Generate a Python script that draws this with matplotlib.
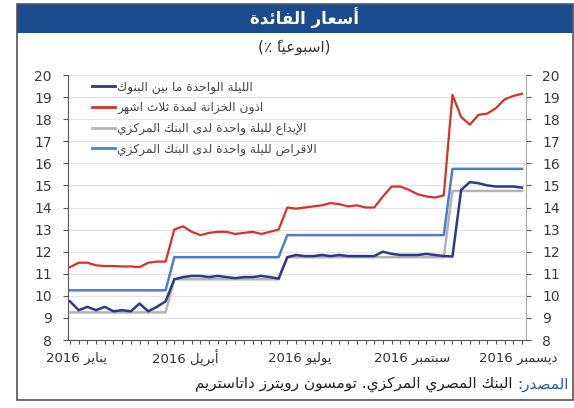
import matplotlib
matplotlib.use("Agg")
import matplotlib.pyplot as plt
from matplotlib.patches import Rectangle
from matplotlib.lines import Line2D

# Weekly observations, 2016
interbank = [9.75, 9.35, 9.5, 9.35, 9.5, 9.3, 9.35, 9.3, 9.65, 9.3, 9.5, 9.75,
             10.75, 10.85, 10.9, 10.9, 10.85, 10.9, 10.85, 10.8, 10.85, 10.85, 10.9, 10.85, 10.78,
             11.75, 11.85, 11.8, 11.8, 11.85, 11.8, 11.85, 11.8, 11.8, 11.8, 11.8, 12.0, 11.9,
             11.85, 11.85, 11.85, 11.9, 11.85, 11.8, 11.78,
             14.8, 15.15, 15.1, 15.0, 14.95, 14.95, 14.95, 14.9]
tbill_3m = [11.3, 11.5, 11.5, 11.38, 11.35, 11.35, 11.33, 11.33, 11.3, 11.5, 11.55, 11.55,
            13.0, 13.15, 12.9, 12.75, 12.85, 12.9, 12.9, 12.8, 12.85, 12.9, 12.8, 12.9, 13.0,
            14.0, 13.95, 14.0, 14.05, 14.1, 14.2, 14.15, 14.05, 14.1, 14.0, 14.0, 14.5, 14.95,
            14.95, 14.8, 14.6, 14.5, 14.45, 14.55,
            19.1, 18.1, 17.75, 18.2, 18.25, 18.5, 18.9, 19.05, 19.15]
deposit = [9.25] * 12 + [10.75] * 13 + [11.75] * 19 + [14.75] * 9
lending = [10.25] * 12 + [11.75] * 13 + [12.75] * 19 + [15.75] * 9

labels = ["الليلة الواحدة ما بين البنوك",
          "اذون الخزانة لمدة ثلاث اشهر",
          "الإيداع لليلة واحدة لدى البنك المركزي",
          "الاقراض لليلة واحدة لدى البنك المركزي"]
months = ["يناير", "أبريل", "يوليو", "سبتمبر", "ديسمبر"]
month_pos = [0.7, 13.3, 26.4, 39.3, 51.6]

# --- minimal arabic shaping (presentation forms + visual order) ---
LETTERS = "ءآأؤإئابةتثجحخدذرزسشصضطظعغفقكلمنهوىي"
COUNTS = [1, 2, 2, 2, 2, 4, 2, 4, 2, 4, 4, 4, 4, 4, 2, 2, 2, 2, 4, 4,
          4, 4, 4, 4, 4, 4, 4, 4, 4, 4, 4, 4, 4, 2, 2, 4]
FORMS = {}
code = 0xFE80
for ch, n in zip(LETTERS, COUNTS):
    FORMS[ch] = (code, n)
    code += n
LAM_ALEF = {"آ": 0xFEF5, "أ": 0xFEF7, "إ": 0xFEF9, "ا": 0xFEFB}


def is_mark(c):
    return "\u064B" <= c <= "\u0652"


def shape(text):
    units = []
    i = 0
    while i < len(text):
        c = text[i]
        if c == "ل" and i + 1 < len(text) and text[i + 1] in LAM_ALEF:
            units.append("ل" + text[i + 1])
            i += 2
        else:
            units.append(c)
            i += 1

    def is_letter(u):
        return u in FORMS or len(u) == 2

    def joins_next(u):
        return u in FORMS and FORMS[u][1] == 4

    clusters = []
    for k, u in enumerate(units):
        if is_mark(u) and clusters:
            # mark goes before its base so it lands on it when drawn left to right
            clusters[-1] = u + clusters[-1]
            continue
        if not is_letter(u):
            clusters.append(u)
            continue
        j = k - 1
        while j >= 0 and is_mark(units[j]):
            j -= 1
        prev = j >= 0 and joins_next(units[j])
        j = k + 1
        while j < len(units) and is_mark(units[j]):
            j += 1
        nxt = j < len(units) and is_letter(units[j]) and joins_next(u)
        if len(u) == 2:
            g = chr(LAM_ALEF[u[1]] + (1 if prev else 0))
        else:
            base, n = FORMS[u]
            idx = 3 if (prev and nxt) else 2 if nxt else 1 if prev else 0
            g = chr(base + min(idx, n - 1))
        clusters.append(g)
    return "".join(reversed(clusters))


plt.rcParams["font.family"] = ["DejaVu Sans"]

fig = plt.figure(figsize=(5.74, 4.08), dpi=100)
W, H = 574, 408

# outer frame and header bar
fig.patches.append(Rectangle((17 / W, 1 - 400 / H), 556 / W, 396 / H, transform=fig.transFigure,
                             facecolor="none", edgecolor="#555555", lw=1.2, zorder=10))
fig.patches.append(Rectangle((17 / W, 1 - 33 / H), 556 / W, 29 / H, transform=fig.transFigure,
                             facecolor="#1a4b8c", edgecolor="none", zorder=1))
fig.text(305 / W, 1 - 18 / H, shape("أسعار الفائدة"), color="white", fontsize=12,
         fontweight="bold", ha="center", va="center")
fig.text(294 / W, 1 - 47 / H, "(٪ " + shape("اسبوعياً") + ")", color="#333333", fontsize=11,
         ha="center", va="center")

ax = fig.add_axes([68 / W, 1 - 340 / H, 458 / W, 265 / H])
ax.set_facecolor("none")
x = list(range(len(interbank)))

ax.plot(x, deposit, color="#b4b4b4", lw=1.8, zorder=3)
ax.plot(x, lending, color="#4d7fc6", lw=1.8, zorder=3)
ax.plot(x, tbill_3m, color="#d8312a", lw=1.6, zorder=4)
ax.plot(x, interbank, color="#2b398c", lw=1.8, zorder=5)

ax.set_xlim(-0.23, 52.46)
ax.set_ylim(8, 20)
ax.set_yticks(range(8, 21))
ax.set_xticks(x)
ax.set_xticklabels([])
ax.grid(axis="y", color="#e3e3e3", lw=0.8)
ax.set_axisbelow(True)

ax.tick_params(axis="y", direction="out", length=3.6, width=0.8, color="#555555",
               labelsize=10, labelcolor="#3a3a3a", pad=8, right=True, labelright=True)
ax.tick_params(axis="x", direction="out", length=3, width=0.8, color="#555555")
for t in ax.yaxis.get_major_ticks():
    t.tick2line.set_color("#aaaaaa")

ax.spines["top"].set_visible(False)
ax.spines["left"].set_color("#555555")
ax.spines["bottom"].set_color("#555555")
ax.spines["right"].set_color("#aaaaaa")

for m, p in zip(months, month_pos):
    ax.text(p, -0.068, "2016 " + shape(m), transform=ax.get_xaxis_transform(),
            ha="center", va="center", fontsize=9.5, color="#333333")

handles = [Line2D([], [], color=c, lw=2) for c in ["#2b398c", "#d8312a", "#b4b4b4", "#4d7fc6"]]
ax.legend(handles, [shape(s) for s in labels], loc="upper left", bbox_to_anchor=(0.052, 0.979),
          frameon=False, fontsize=8.8, handlelength=1.9, handletextpad=0.2, labelspacing=0.62,
          borderpad=0, borderaxespad=0, labelcolor="#444444")

# source line: blue label then the rest to its left
src = fig.text(569 / W, 1 - 384 / H, shape("المصدر:"), color="#1f5fa8", fontsize=11,
               ha="right", va="center")
fig.canvas.draw()
bb = src.get_window_extent()
fig.text(bb.x0 / W, 1 - 384 / H, shape(" البنك المصري المركزي. تومسون رويترز داتاستريم"),
         color="#222222", fontsize=11, ha="right", va="center")

fig.savefig("out.png", dpi=100)
